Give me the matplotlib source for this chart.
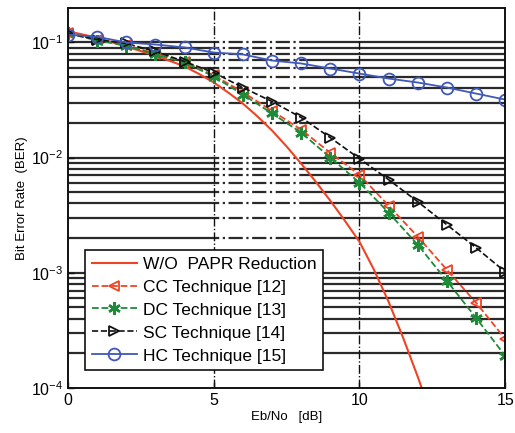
import numpy as np
import matplotlib
matplotlib.use("Agg")
import matplotlib.pyplot as plt
from matplotlib.ticker import LogLocator, FixedLocator

plt.rcParams['font.family'] = ['Liberation Sans', 'DejaVu Sans']
plt.rcParams['mathtext.fontset'] = 'custom'
plt.rcParams['mathtext.rm'] = 'Liberation Sans'

# ---- data ----
ebno = [0, 1, 2, 3, 4, 5, 6, 7, 8, 9, 10, 11, 12, 13, 14, 15]

wo_x = [0, 1, 2, 3, 4, 4.5, 5, 5.5, 6, 6.5, 7, 7.5, 8, 8.5, 9, 9.5, 10,
        10.5, 11, 11.5, 12, 12.5]
wo_ber = [0.125, 0.11, 0.092, 0.077, 0.062, 0.0532, 0.045, 0.0367, 0.0295,
          0.0228, 0.0172, 0.0125, 0.00887, 0.00618, 0.00423, 0.00283,
          0.00186, 0.00106, 5.6e-4, 2.72e-4, 1.25e-4, 5.5e-5]

cc_ber = [0.12, 0.105, 0.095, 0.08, 0.068, 0.052, 0.037, 0.0255, 0.0175,
          0.0110, 0.0071, 0.00383, 0.00206, 0.00106, 5.5e-4, 2.67e-4]
dc_ber = [0.12, 0.104, 0.094, 0.0787, 0.067, 0.0506, 0.0353, 0.0242, 0.0165,
          0.0100, 0.00607, 0.00333, 0.00175, 8.5e-4, 4.06e-4, 1.9e-4]
sc_ber = [0.12, 0.106, 0.098, 0.0835, 0.0683, 0.0548, 0.0406, 0.0307, 0.0223,
          0.0149, 0.0098, 0.00644, 0.00414, 0.00261, 0.00165, 0.00102]
hc_ber = [0.117, 0.112, 0.100, 0.096, 0.0905, 0.0818, 0.0787, 0.0697, 0.0657,
          0.0594, 0.0537, 0.0486, 0.0449, 0.0406, 0.036, 0.0319]

labels = ["W/O  PAPR Reduction", "CC Technique [12]", "DC Technique [13]",
          "SC Technique [14]", "HC Technique [15]"]

RED = '#ee4425'
GREEN = '#1f8a3a'
BLUE = '#4058b8'
BLACK = '#111111'

fig = plt.figure(figsize=(5.15, 4.33), dpi=100)
ax = fig.add_axes([0.132, 0.104, 0.849, 0.878])
ax.set_yscale('log')
ax.set_xlim(0, 15)
ax.set_ylim(1e-4, 0.2)

# horizontal grid (solid, with a dash-dot stretch in the middle as in the reference)
grid_y = []
for dec in [1e-4, 1e-3, 1e-2, 1e-1]:
    for m in range(1, 10):
        v = m * dec
        if 1e-4 < v < 0.2:
            grid_y.append(v)
gkw = dict(color='#2a2a2a', lw=1.6, zorder=1)
ax.hlines(grid_y, 0, 4.7, linestyles='-', **gkw)
ax.hlines(grid_y, 4.7, 8.2, linestyles='-.', **gkw)
ax.hlines(grid_y, 8.2, 15, linestyles='-', **gkw)
# vertical grid at major x ticks
for xv in [5, 10]:
    ax.axvline(xv, color=BLACK, lw=1.0, ls='-.', zorder=1)

ax.plot(wo_x, wo_ber, '-', color=RED, lw=1.5, label=labels[0], zorder=3)
ax.plot(ebno, cc_ber, '--', color=RED, lw=1.3, marker='<', ms=7,
        mfc='none', mec=RED, mew=1.3, label=labels[1], zorder=4)
ax.plot(ebno, dc_ber, '--', color=GREEN, lw=1.3, marker=(6, 2, 0), ms=9,
        mfc=GREEN, mec=GREEN, mew=1.8, label=labels[2], zorder=4)
ax.plot(ebno, sc_ber, '--', color=BLACK, lw=1.2, marker='>', ms=7,
        mfc='none', mec=BLACK, mew=1.3, label=labels[3], zorder=4)
ax.plot(ebno, hc_ber, '-', color=BLUE, lw=1.3, marker='o', ms=8.5,
        mfc='none', mec=BLUE, mew=1.3, label=labels[4], zorder=4)

ax.xaxis.set_major_locator(FixedLocator([0, 5, 10, 15]))
ax.yaxis.set_major_locator(LogLocator(base=10, numticks=10))
ax.yaxis.set_minor_locator(LogLocator(base=10, subs=np.arange(2, 10), numticks=10))
ax.tick_params(axis='both', which='both', direction='in', labelsize=11.5,
               color=BLACK)
ax.tick_params(axis='y', which='minor', length=0)
ax.tick_params(axis='both', which='major', length=4, width=1)
for s in ax.spines.values():
    s.set_linewidth(1.4)
    s.set_color(BLACK)
    s.set_zorder(6)

ax.set_xlabel('Eb/No   [dB]', fontsize=9.5, labelpad=2)
ax.set_ylabel('Bit Error Rate  (BER)', fontsize=9.5, labelpad=2)

leg = ax.legend(loc='lower left', bbox_to_anchor=(0.039, 0.047), fontsize=12.5,
                frameon=True, fancybox=False, edgecolor=BLACK, framealpha=1,
                handlelength=2.6, handletextpad=0.35, borderpad=0.38,
                labelspacing=0.45, borderaxespad=0)
leg.get_frame().set_linewidth(1.2)
leg.set_zorder(10)

fig.savefig('out.png', dpi=100)
